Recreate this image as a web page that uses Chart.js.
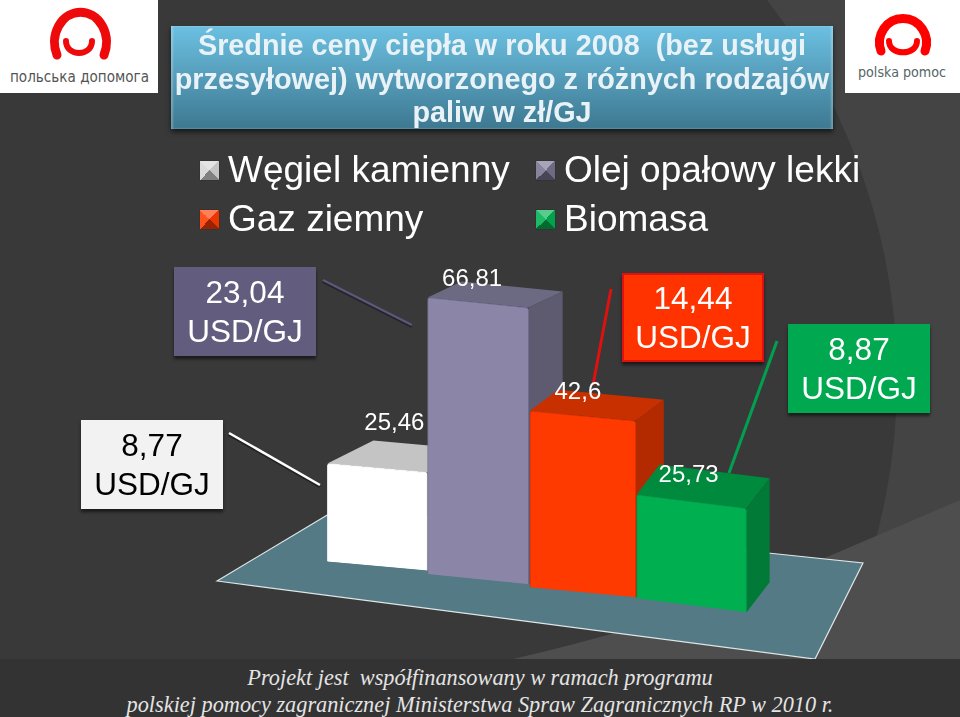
<!DOCTYPE html>
<html lang="pl">
<head>
<meta charset="utf-8">
<title>Średnie ceny ciepła w roku 2008</title>
<script src="https://cdn.jsdelivr.net/npm/chart.js@4"></script>
<style>
html, body { margin: 0; padding: 0; background: #3a3a3a; }
#slide { position: relative; width: 960px; height: 717px; overflow: hidden; font-family: "Liberation Sans", Arial, sans-serif; }
#bg, #chart { position: absolute; left: 0; top: 0; }
#title {
    position: absolute; left: 171px; top: 26px; width: 662px; height: 103px; box-sizing: border-box;
    padding-top: 3px; text-align: center; color: #e9f3f7; font-weight: bold; font-size: 28.8px; line-height: 33.5px; white-space: nowrap;
    background: linear-gradient(#6cc0e2, #3d7890);
    box-shadow: 0 3px 5px rgba(0,0,0,.6), inset 2px 0 2px rgba(255,255,255,.25), inset -2px 0 2px rgba(255,255,255,.25);
}
.legendItem { position: absolute; color: #fff; font-size: 37px; line-height: 42px; white-space: nowrap; }
.marker { position: absolute; width: 19px; height: 19px; box-shadow: 0 0 1px #222; }
.marker::after {
    content: ""; position: absolute; inset: 0;
    background: conic-gradient(from -45deg, rgba(255,255,255,.35) 25%, rgba(0,0,0,.08) 0 50%, rgba(0,0,0,.4) 0 75%, rgba(255,255,255,.12) 0);
}
.callout {
    position: absolute; width: 142px; height: 89px; box-sizing: border-box; text-align: center;
    font-size: 31.5px; line-height: 39px; padding-top: 6px; box-shadow: 0 3px 3px rgba(0,0,0,.55);
}
#footer {
    position: absolute; left: 0; top: 659px; width: 960px; height: 58px; background: #333;
    color: #e4e4e4; text-align: center; font-family: "Liberation Serif", serif; font-style: italic;
    font-size: 22.3px; line-height: 27px; padding-top: 5px; box-sizing: border-box; white-space: nowrap;
}
</style>
</head>
<body>
<div id="slide">
    <svg id="bg" width="960" height="717" viewBox="0 0 960 717">
        <rect width="960" height="717" fill="#444"/>
        <circle cx="280" cy="379" r="617" fill="#393939"/>
        <path d="M500 662 Q680 622 827 557 L960 500 V662 Z" fill="#4e4e4e"/>
        <polygon points="217,581 339,508 768,553 863,563 815,659" fill="#547a85" stroke="#dfe6e8" stroke-width="1.2"/>
        <line x1="323" y1="281" x2="412" y2="326" stroke="#25232e" stroke-width="4"/>
        <line x1="323" y1="280" x2="412" y2="325" stroke="#5d5878" stroke-width="2.5"/>
        <line x1="229" y1="434" x2="320" y2="486" stroke="#222" stroke-width="4"/>
        <line x1="229" y1="433" x2="320" y2="485" stroke="#fff" stroke-width="2.5"/>
        <line x1="611" y1="289" x2="593" y2="385" stroke="#e01010" stroke-width="3"/>
        <line x1="777" y1="341" x2="729" y2="473" stroke="#00a050" stroke-width="3"/>
        <!-- logos -->
        <rect x="0" y="0" width="158" height="93" fill="#fff"/>
        <path d="M57 55 A26 30 0 1 1 104 55" fill="none" stroke="#ee0a0a" stroke-width="9" stroke-linecap="round"/>
        <path d="M66 41 C66 57 92 57 92 41" fill="none" stroke="#ee0a0a" stroke-width="6" stroke-linecap="round"/>
        <text x="10" y="82" font-family="DejaVu Sans" font-size="15" fill="#555" textLength="139" lengthAdjust="spacingAndGlyphs">польська допомога</text>
        <rect x="845" y="0" width="115" height="93" fill="#fff"/>
        <path d="M881 51 A23.5 24 0 1 1 925 51" fill="none" stroke="#f00" stroke-width="9" stroke-linecap="round"/>
        <path d="M889 41 C889 56 917 56 917 41" fill="none" stroke="#f00" stroke-width="6" stroke-linecap="round"/>
        <text x="858" y="77" font-family="DejaVu Sans" font-size="14" fill="#566" textLength="88" lengthAdjust="spacingAndGlyphs">polska pomoc</text>
    </svg>
    <canvas id="chart" width="960" height="717"></canvas>
    <div id="title">Średnie ceny ciepła w roku 2008&nbsp; (bez usługi<br>przesyłowej) wytworzonego z różnych rodzajów<br>paliw w zł/GJ</div>
    <div id="legend"></div>
    <div id="callouts"></div>
    <div id="footer">Projekt jest&nbsp; współfinansowany w ramach programu<br>polskiej pomocy zagranicznej Ministerstwa Spraw Zagranicznych RP w 2010 r.</div>
</div>
<script>
// Dane
const fuels = ['Węgiel kamienny', 'Olej opałowy lekki', 'Gaz ziemny', 'Biomasa'];
const pricesPln = [25.46, 66.81, 42.6, 25.73];
const pricesUsd = ['8,77', '23,04', '14,44', '8,87'];
const valueLabels = ['25,46', '66,81', '42,6', '25,73'];

// Kolory
const frontColors = ['#ffffff', '#8b86a8', '#ff3a00', '#00b050'];
const edgeColors = ['#f4f4f4', '#6f6b8e', '#d93000', '#00964a'];
const topColors = ['#c4c4c4', '#6c6983', '#c93000', '#008a3e'];
const sideColors = ['#a8a8a8', '#5e5b70', '#b42a00', '#007a36'];
const markerColors = ['#d6d6d6', '#77738f', '#ff3a00', '#00b050'];

// Pseudo 3D: przesunięcie, skala i głębia każdego słupka
const nudgeX = [0, -4, -4, 0];
const scaleX = [0.955, 0.965, 1.01, 1.05];
const scaleY = [0.94, 1.01, 1.01, 0.985];
const skew = [0.09, 0.1, 0.095, 0.125];
const depth = [[46, -23], [34, -16], [28, -21], [23, -30]];
const labelOffset = [[17, -45], [-6, -23], [-5, -23], [-3, -26]];
const floorTilt = 0.125;

function barMatrix(chart, i) {
    const el = chart.getDatasetMeta(i).data[i];
    const base = chart.scales.y.getPixelForValue(0);
    const first = chart.getDatasetMeta(0).data[0].x;
    const sx = scaleX[i];
    const k = skew[i];
    return {
        a: sx, b: k * sx, c: 0, d: scaleY[i],
        e: el.x + nudgeX[i] - sx * el.x,
        f: base - scaleY[i] * base + floorTilt * (el.x - first) - k * sx * el.x
    };
}

// Rysuje boki słupka i nakłada transformację na przód
const pseudo3d = {
    id: 'pseudo3d',
    beforeDatasetDraw(chart, args) {
        const i = args.index;
        const el = args.meta.data[i];
        const m = barMatrix(chart, i);
        const ctx = chart.ctx;
        ctx.save();
        ctx.transform(m.a, m.b, m.c, m.d, m.e, m.f);
        const l = el.x - el.width / 2, r = el.x + el.width / 2;
        const dx = depth[i][0] / m.a;
        const dy = (depth[i][1] - skew[i] * depth[i][0]) / m.d;
        ctx.fillStyle = topColors[i];
        ctx.beginPath();
        ctx.moveTo(l, el.y); ctx.lineTo(r, el.y); ctx.lineTo(r + dx, el.y + dy); ctx.lineTo(l + dx, el.y + dy);
        ctx.closePath(); ctx.fill();
        ctx.fillStyle = sideColors[i];
        ctx.beginPath();
        ctx.moveTo(r, el.y); ctx.lineTo(r + dx, el.y + dy); ctx.lineTo(r + dx, el.base + dy); ctx.lineTo(r, el.base);
        ctx.closePath(); ctx.fill();
    },
    afterDatasetDraw(chart) {
        chart.ctx.restore();
    },
    afterDatasetsDraw(chart) {
        const ctx = chart.ctx;
        ctx.save();
        ctx.fillStyle = '#fff';
        ctx.font = '24px "Liberation Sans"';
        ctx.textAlign = 'center';
        ctx.textBaseline = 'middle';
        valueLabels.forEach((txt, i) => {
            const el = chart.getDatasetMeta(i).data[i];
            const m = barMatrix(chart, i);
            const x = m.a * el.x + m.e;
            const y = m.b * el.x + m.d * el.y + m.f;
            ctx.fillText(txt, x + labelOffset[i][0], y + labelOffset[i][1]);
        });
        ctx.restore();
    }
};

new Chart(document.getElementById('chart').getContext('2d'), {
    type: 'bar',
    data: {
        labels: fuels,
        datasets: fuels.map((name, i) => ({
            label: name,
            data: pricesPln.map((v, j) => (j === i ? v : null)),
            backgroundColor: frontColors[i],
            borderColor: edgeColors[i],
            borderWidth: 1,
            borderRadius: 3,
            order: fuels.length - i,
            clip: false
        }))
    },
    options: {
        responsive: false,
        animation: false,
        layout: { padding: { left: 325, right: 216, top: 238, bottom: 151 } },
        datasets: { bar: { grouped: false, barPercentage: 1, categoryPercentage: 1 } },
        scales: {
            x: { display: false },
            y: { display: false, min: 0, max: 80 }
        },
        plugins: { legend: { display: false }, tooltip: { enabled: false } }
    },
    plugins: [pseudo3d]
});

// Legenda w dwóch kolumnach
const legendBox = document.getElementById('legend');
const legendX = [200, 536, 200, 536];
const legendY = [149, 149, 198, 198];
fuels.forEach((name, i) => {
    const marker = document.createElement('div');
    marker.className = 'marker';
    marker.style.cssText = 'left:' + legendX[i] + 'px;top:' + (legendY[i] + 12) + 'px;background:' + markerColors[i];
    const item = document.createElement('div');
    item.className = 'legendItem';
    item.style.cssText = 'left:' + (legendX[i] + 28) + 'px;top:' + legendY[i] + 'px';
    item.textContent = name;
    legendBox.append(marker, item);
});

// Ramki z cenami w USD
const calloutPos = [[81, 420], [174, 267], [622, 273], [788, 324]];
const calloutFill = ['#f2f2f2', '#625d7e', '#ff3300', '#00a84f'];
const calloutText = ['#000', '#fff', '#fff', '#fff'];
const calloutBox = document.getElementById('callouts');
pricesUsd.forEach((price, i) => {
    const box = document.createElement('div');
    box.className = 'callout';
    box.style.cssText = 'left:' + calloutPos[i][0] + 'px;top:' + calloutPos[i][1] + 'px;background:' + calloutFill[i] + ';color:' + calloutText[i];
    if (i === 2) {
        box.style.border = '2px solid #e01010';
        box.style.paddingTop = '4px';
    }
    box.innerHTML = price + '<br>USD/GJ';
    calloutBox.append(box);
});
</script>
</body>
</html>
